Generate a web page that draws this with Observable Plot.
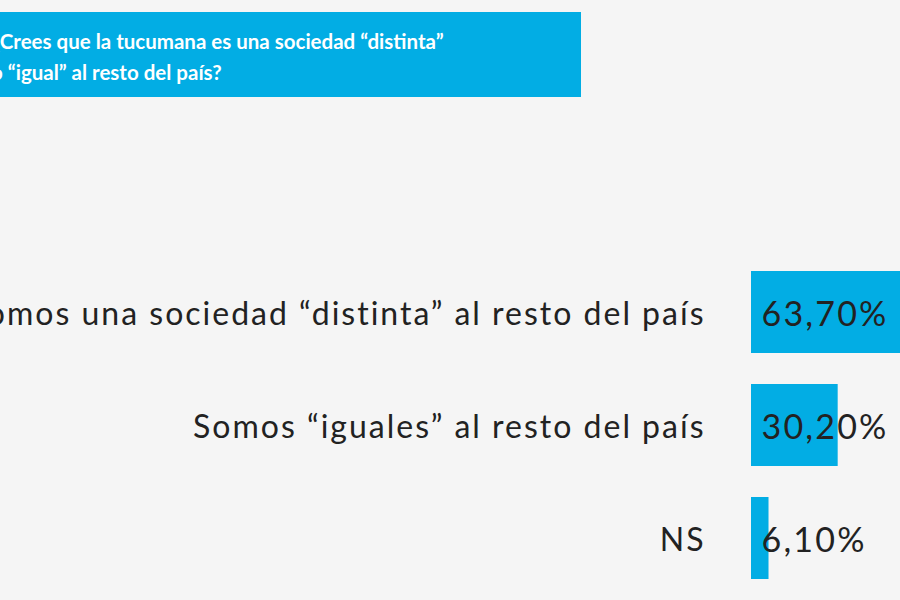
<!DOCTYPE html>
<html>
<head>
<meta charset="utf-8">
<script src="https://cdn.jsdelivr.net/npm/d3@7"></script>
<script src="https://cdn.jsdelivr.net/npm/@observablehq/plot@0.6"></script>
<style>
  html, body { margin: 0; padding: 0; background: #f5f5f5; width: 900px; height: 600px; overflow: hidden; }
  #wrap { position: relative; width: 900px; height: 600px; }
  #title {
    position: absolute; left: 0; top: 12px; width: 581px; height: 85px; overflow: hidden;
    background: #02ade4; color: #fff; font-family: Lato, sans-serif; font-weight: 700;
    font-size: 20.5px; line-height: 31px; box-sizing: border-box; padding-top: 14px;
  }
  #title div { margin-left: -9px; white-space: nowrap; }
  #chart { position: absolute; left: 0; top: 0; }
  #chart svg { overflow: hidden; }
</style>
</head>
<body>
<div id="wrap">
  <div id="chart"></div>
  <div id="title"><div>¿Crees que la tucumana es una sociedad “distinta”</div><div>o “igual” al resto del país?</div></div>
</div>
<script>
const categories = [
  "Somos una sociedad “distinta” al resto del país",
  "Somos “iguales” al resto del país",
  "NS"
];
const values = [63.7, 30.2, 6.1];
const valueLabels = ["63,70%", "30,20%", "6,10%"];

const data = categories.map((c, i) => ({category: c, value: values[i], label: valueLabels[i]}));

const chart = Plot.plot({
  width: 900,
  height: 600,
  marginLeft: 0, marginRight: 0, marginTop: 0, marginBottom: 0,
  style: {background: "#f5f5f5", fontFamily: "Lato, sans-serif", color: "#222"},
  x: {domain: [0, 100], range: [751, 1038], axis: null},
  y: {domain: categories, range: [239, 611], padding: 0.278, axis: null},
  marks: [
    Plot.barX(data, {x: "value", y: "category", fill: "#02ade4", clip: true}),
    Plot.text(data, {x: () => 0, y: "category", text: "category", textAnchor: "end", dx: -46, dy: 2,
      fontSize: 32, fill: "#222", fontFamily: "Lato, sans-serif"}),
    Plot.text(data, {x: () => 0, y: "category", text: "label", textAnchor: "start", dx: 10, dy: 3,
      fontSize: 34, fill: "#222", fontFamily: "Lato, sans-serif"})
  ]
});
const textGroups = d3.select(chart).selectAll('g[aria-label="text"]').nodes();
if (textGroups[0]) d3.select(textGroups[0]).selectAll("text").style("letter-spacing", "2px");
if (textGroups[1]) d3.select(textGroups[1]).selectAll("text").style("letter-spacing", "2.2px");
document.getElementById("chart").appendChild(chart);
</script>
</body>
</html>
